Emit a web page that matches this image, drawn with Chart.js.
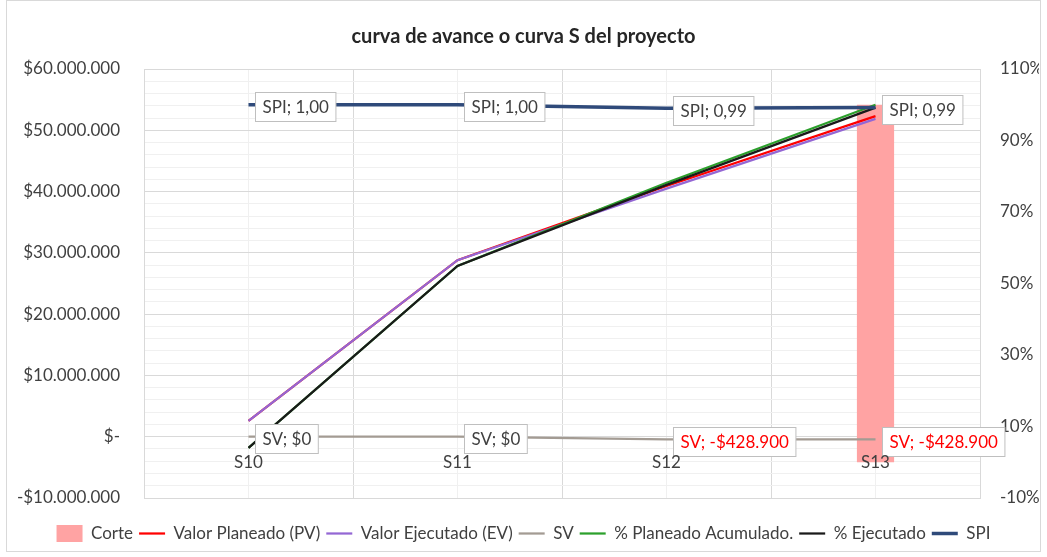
<!DOCTYPE html>
<html>
<head>
<meta charset="utf-8">
<script src="https://cdn.jsdelivr.net/npm/chart.js@4.4.1/dist/chart.umd.min.js"></script>
<style>
  html, body { margin: 0; padding: 0; background: #ffffff; }
  #wrap { width: 1047px; height: 557px; position: relative; }
</style>
</head>
<body>
<div id="wrap"><canvas id="curvaS"></canvas></div>
<script>
// Data
const categories = ['S10', 'S11', 'S12', 'S13'];
const corte = [null, null, null, 1];
const valorPlaneado = [2600000, 28800000, 40900000, 52300000];
const valorEjecutado = [2600000, 28800000, 40471100, 51871100];
const sv = [0, 0, -428900, -428900];
const pctPlaneado = [0.04, 0.549, 0.782, 1.0];
const pctEjecutado = [0.04, 0.549, 0.776, 0.992];
const spi = [1.0, 1.0, 0.99, 0.992];
const rightTicks = [-0.1, 0.1, 0.3, 0.5, 0.7, 0.9, 1.1];

const FONT = 'Lato';
const colors = {
  corte: '#ffa3a3',
  pv: '#ff0000',
  ev: '#9467d4',
  sv: '#a39b93',
  plan: '#2ca02c',
  ejec: '#1a1a1a',
  spi: '#2f4a7a',
  text: '#404040',
  grid: '#d9d9d9',
  minor: '#f0f0f0'
};

// thousands separator with dots
function miles(n) {
  return Math.round(Math.abs(n)).toString().replace(/\B(?=(\d{3})+(?!\d))/g, '.');
}
function money(v) {
  if (v === 0) return '$-';
  return (v < 0 ? '-' : '') + '$' + miles(v);
}

// data label texts
const spiLabels = spi.map(v => 'SPI; ' + v.toFixed(2).replace('.', ','));
const svLabels = sv.map(v => 'SV; ' + (v < 0 ? '-' : '') + '$' + miles(v));
const svLabelColors = sv.map(v => v < 0 ? '#ff0000' : colors.text);

const boxLabels = {
  id: 'boxLabels',
  afterDatasetsDraw(chart) {
    const { ctx } = chart;
    const sets = [
      { index: 3, texts: svLabels, colors: svLabelColors },
      { index: 6, texts: spiLabels, colors: spiLabels.map(() => colors.text) }
    ];
    ctx.save();
    ctx.font = `17px ${FONT}`;
    ctx.textBaseline = 'middle';
    ctx.textAlign = 'left';
    sets.forEach(set => {
      const meta = chart.getDatasetMeta(set.index);
      meta.data.forEach((pt, i) => {
        const text = set.texts[i];
        const w = ctx.measureText(text).width + 14;
        const h = 29;
        const x = Math.round(pt.x + 6) + 0.5;
        const y = Math.round(pt.y - h / 2 + 2) + 0.5;
        ctx.fillStyle = '#ffffff';
        ctx.fillRect(x, y, w, h);
        ctx.strokeStyle = '#bfbfbf';
        ctx.lineWidth = 1;
        ctx.strokeRect(x, y, w, h);
        ctx.fillStyle = set.colors[i];
        ctx.fillText(text, x + 7, y + h / 2 + 1);
      });
    });

    // category labels sit under the $0 line
    const xs = chart.scales.x;
    const y0 = chart.scales.y.getPixelForValue(0);
    ctx.font = `17px ${FONT}`;
    ctx.textAlign = 'center';
    ctx.fillStyle = colors.text;
    categories.forEach((c, i) => {
      ctx.fillText(c, xs.getPixelForValue(i), y0 + 26);
    });
    ctx.restore();
  }
};

const frame = {
  id: 'frame',
  beforeDatasetsDraw(chart) {
    const { ctx, chartArea: a } = chart;
    ctx.save();
    ctx.strokeStyle = colors.grid;
    ctx.lineWidth = 1;
    ctx.strokeRect(Math.round(a.left) + 0.5, Math.round(a.top) + 0.5,
      Math.round(a.right - a.left), Math.round(a.bottom - a.top));
    ctx.restore();
  },
  afterDraw(chart) {
    const { ctx, width, height } = chart;
    ctx.save();
    ctx.strokeStyle = colors.grid;
    ctx.lineWidth = 1;
    ctx.strokeRect(6.5, 0.5, width - 13, height - 6);
    ctx.restore();
  }
};

function lineSet(label, data, color, axis, width) {
  return {
    type: 'line',
    label,
    data,
    yAxisID: axis,
    borderColor: color,
    backgroundColor: color,
    borderWidth: width || 2.25,
    pointRadius: 0,
    pointHoverRadius: 0,
    pointStyle: 'line',
    tension: 0,
    fill: false
  };
}

new Chart(document.getElementById('curvaS'), {
  data: {
    labels: categories,
    datasets: [
      {
        type: 'bar',
        label: 'Corte',
        data: corte,
        yAxisID: 'y1',
        backgroundColor: colors.corte,
        borderWidth: 0,
        barPercentage: 0.178,
        categoryPercentage: 1,
        pointStyle: 'rect',
        order: 7
      },
      Object.assign(lineSet('Valor Planeado (PV)', valorPlaneado, colors.pv, 'y'), { order: 6 }),
      Object.assign(lineSet('Valor Ejecutado (EV)', valorEjecutado, colors.ev, 'y'), { order: 5 }),
      Object.assign(lineSet('SV', sv, colors.sv, 'y'), { order: 4 }),
      Object.assign(lineSet('% Planeado Acumulado.', pctPlaneado, colors.plan, 'y1'), { order: 3 }),
      Object.assign(lineSet('% Ejecutado', pctEjecutado, colors.ejec, 'y1'), { order: 2 }),
      Object.assign(lineSet('SPI', spi, colors.spi, 'y1', 3.5), { order: 1 })
    ]
  },
  options: {
    responsive: true,
    maintainAspectRatio: false,
    animation: false,
    layout: { padding: { left: 8, right: 8, top: 0, bottom: 5 } },
    scales: {
      x: {
        type: 'category',
        offset: true,
        grid: { offset: true, color: colors.grid, drawTicks: false },
        border: { display: false },
        ticks: { display: false },
        afterFit: s => { s.height = 21; }
      },
      xc: {
        type: 'category',
        labels: categories,
        offset: true,
        position: 'bottom',
        grid: { offset: false, color: colors.minor, drawTicks: false },
        border: { display: false },
        ticks: { display: false }
      },
      y: {
        position: 'left',
        min: -10000000,
        max: 60000000,
        ticks: {
          stepSize: 2000000,
          autoSkip: false,
          padding: 24,
          color: colors.text,
          font: { family: FONT, size: 17 },
          callback: v => (v % 10000000 === 0 ? money(v) : '')
        },
        grid: {
          drawTicks: false,
          color: ctx => (ctx.tick && ctx.tick.value % 10000000 === 0 ? colors.grid : colors.minor)
        },
        border: { display: false },
        afterFit: s => { s.width = 136; }
      },
      y1: {
        position: 'right',
        min: -0.1,
        max: 1.1,
        afterBuildTicks: s => { s.ticks = rightTicks.map(v => ({ value: v })); },
        ticks: {
          padding: 20,
          autoSkip: false,
          color: colors.text,
          font: { family: FONT, size: 17 },
          callback: v => Math.round(v * 100) + '%'
        },
        grid: { display: false, drawTicks: false },
        border: { display: false },
        afterFit: s => { s.width = 59; }
      }
    },
    plugins: {
      title: {
        display: true,
        text: 'curva de avance o curva S del proyecto',
        color: '#262626',
        font: { family: FONT, size: 20, weight: 'bold' },
        padding: { top: 25, bottom: 20 }
      },
      legend: {
        position: 'bottom',
        labels: {
          usePointStyle: true,
          pointStyleWidth: 26,
          boxHeight: 17,
          padding: 6,
          color: colors.text,
          font: { family: FONT, size: 17 },
          sort: (a, b) => a.datasetIndex - b.datasetIndex
        }
      },
      tooltip: { enabled: false }
    }
  },
  plugins: [frame, boxLabels]
});
</script>
</body>
</html>
